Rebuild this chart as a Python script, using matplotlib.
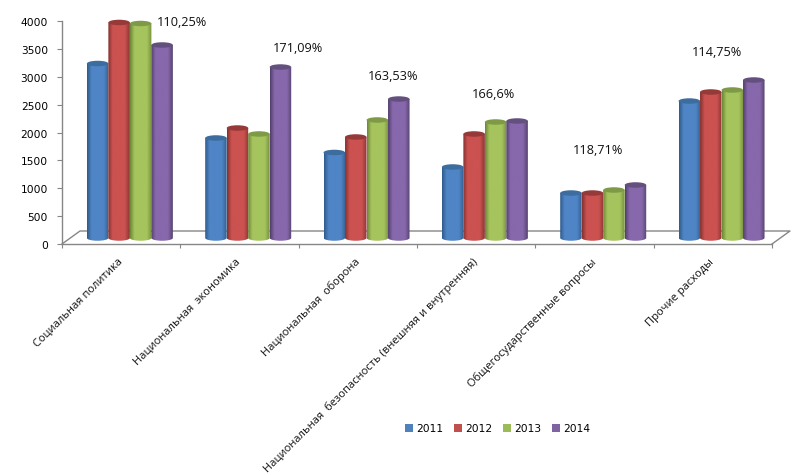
import numpy as np
import matplotlib
matplotlib.use('Agg')
import matplotlib.pyplot as plt
from matplotlib.colors import LinearSegmentedColormap
from matplotlib.patches import Ellipse, Patch, PathPatch
from matplotlib.path import Path
from matplotlib.transforms import ScaledTranslation

categories = ['Социальная политика', 'Национальная  экономика', 'Национальная  оборона',
              'Национальная  безопасность (внешняя и внутренняя)',
              'Общегосударственные вопросы', 'Прочие расходы']
years = ['2011', '2012', '2013', '2014']
v2011 = [3103, 1767, 1507, 1247, 780, 2430]
v2012 = [3839, 1946, 1785, 1839, 780, 2592]
v2013 = [3821, 1839, 2090, 2054, 834, 2628]
v2014 = [3435, 3040, 2466, 2072, 924, 2807]
growth = ['110,25%', '171,09%', '163,53%', '166,6%', '118,71%', '114,75%']

# pixel positions of the growth labels
growth_px = [(182, 23), (298, 48), (393, 76), (493, 95), (598, 150), (717, 53)]

W, H = 798, 475
X0, X1, Y0, Y1 = 62, 772, 244, 21
GRAY = '#868686'

# left edge, middle, right edge, top cap
shades = [('#2f5b8c', '#4f85c6', '#35608f', '#3d6c9f'),
          ('#84322f', '#cb5250', '#8a3634', '#953a38'),
          ('#6f8739', '#a6c45d', '#76903f', '#7f9a46'),
          ('#523f6c', '#8768ac', '#574470', '#64507f')]
legend_colors = ['#4f81bd', '#c0504d', '#9bbb59', '#8064a2']

plt.rcParams['font.family'] = 'DejaVu Sans'

fig = plt.figure(figsize=(W / 100, H / 100), dpi=100)
ax = fig.add_axes([X0 / W, 1 - Y0 / H, (X1 - X0) / W, (Y0 - Y1) / H])
ax.set_xlim(0, 6)
ax.set_ylim(0, 4000)

unit_x = (X1 - X0) / 6.0
unit_y = (Y0 - Y1) / 4000.0
floor = 7.5 / unit_y        # bars stand a little behind the front edge
foot = 6 / unit_y           # where the round bottom starts
cap_h = 5.5 / unit_y
bar_w = 21.5 / unit_x
shift = 8.7 / unit_x

# floor of the 3d box
dx, dy = 18 / unit_x, 13 / unit_y
ax.plot([0, dx, 6 + dx, 6], [0, dy, dy, 0], color=GRAY, lw=1, clip_on=False, zorder=1)

ramp = np.linspace(0, 1, 43).reshape(1, -1)
series = [v2011, v2012, v2013, v2014]
for s, vals in enumerate(series):
    c = shades[s]
    cmap = LinearSegmentedColormap.from_list('c%d' % s, [(0, c[0]), (0.2, c[1]), (0.78, c[1]), (1, c[2])])
    for i, v in enumerate(vals):
        left = i + 0.5 + shift + (s - 2) * bar_w
        right = left + bar_w
        z = 2 + s + i * 10
        top = floor + v
        # body of the cylinder with rounded bottom
        k = 0.5523
        verts = [(left, top), (left, foot), (left, foot - k * cap_h / 2),
                 (left + bar_w / 2 - k * bar_w / 2, foot - cap_h / 2), (left + bar_w / 2, foot - cap_h / 2),
                 (left + bar_w / 2 + k * bar_w / 2, foot - cap_h / 2), (right, foot - k * cap_h / 2), (right, foot),
                 (right, top), (left, top)]
        codes = [Path.MOVETO, Path.LINETO, Path.CURVE4, Path.CURVE4, Path.CURVE4,
                 Path.CURVE4, Path.CURVE4, Path.CURVE4, Path.LINETO, Path.CLOSEPOLY]
        clip = PathPatch(Path(verts, codes), fc='none', ec='none', transform=ax.transData)
        ax.add_patch(clip)
        im = ax.imshow(ramp, cmap=cmap, aspect='auto', vmin=0, vmax=1,
                       extent=(left, right, foot - cap_h, top), interpolation='bilinear', zorder=z)
        im.set_clip_path(clip)
        ax.add_patch(Ellipse((left + bar_w / 2, top), bar_w, cap_h, fc=c[3], ec='none', zorder=z + 0.5, clip_on=False))

ax.set_xlim(0, 6)
ax.set_ylim(0, 4000)

for sp in ['top', 'right']:
    ax.spines[sp].set_visible(False)
for sp in ['left', 'bottom']:
    ax.spines[sp].set_color(GRAY)
    ax.spines[sp].set_linewidth(1)

ax.set_yticks(np.arange(0, 4001, 500))
ax.tick_params(axis='y', length=3.6, width=0.8, color=GRAY, pad=6.5, labelsize=7.7)
ax.set_xticks(np.arange(0, 7))
ax.set_xticklabels([])
ax.tick_params(axis='x', which='major', length=3, width=0.8, color=GRAY)
ax.set_xticks(np.arange(6) + 0.5, minor=True)
ax.set_xticklabels(categories, minor=True, rotation=45, ha='right', va='top', rotation_mode='anchor',
                   fontfamily='Open Sans', fontsize=8.0, color='#111111')
ax.tick_params(axis='x', which='minor', length=0, pad=9)

# nudge tick labels a few pixels
for lab in ax.get_xticklabels(minor=True):
    lab.set_transform(lab.get_transform() + ScaledTranslation(-4 / 100, 0, fig.dpi_scale_trans))
for lab in ax.get_yticklabels():
    lab.set_transform(lab.get_transform() + ScaledTranslation(0, -1 / 100, fig.dpi_scale_trans))

for txt, (px, py) in zip(growth, growth_px):
    fig.text(px / W, 1 - py / H, txt, ha='center', va='center', fontfamily='Open Sans', fontsize=9.2, color='#111111')

handles = [Patch(fc=c, ec='none') for c in legend_colors]
fig.legend(handles, years, loc='center', bbox_to_anchor=(498 / W, 1 - 429 / H), ncol=4, frameon=False,
           fontsize=7.7, handlelength=0.75, handleheight=0.75, handletextpad=0.3, columnspacing=1.0, borderpad=0)

fig.savefig('out.png', dpi=100)
